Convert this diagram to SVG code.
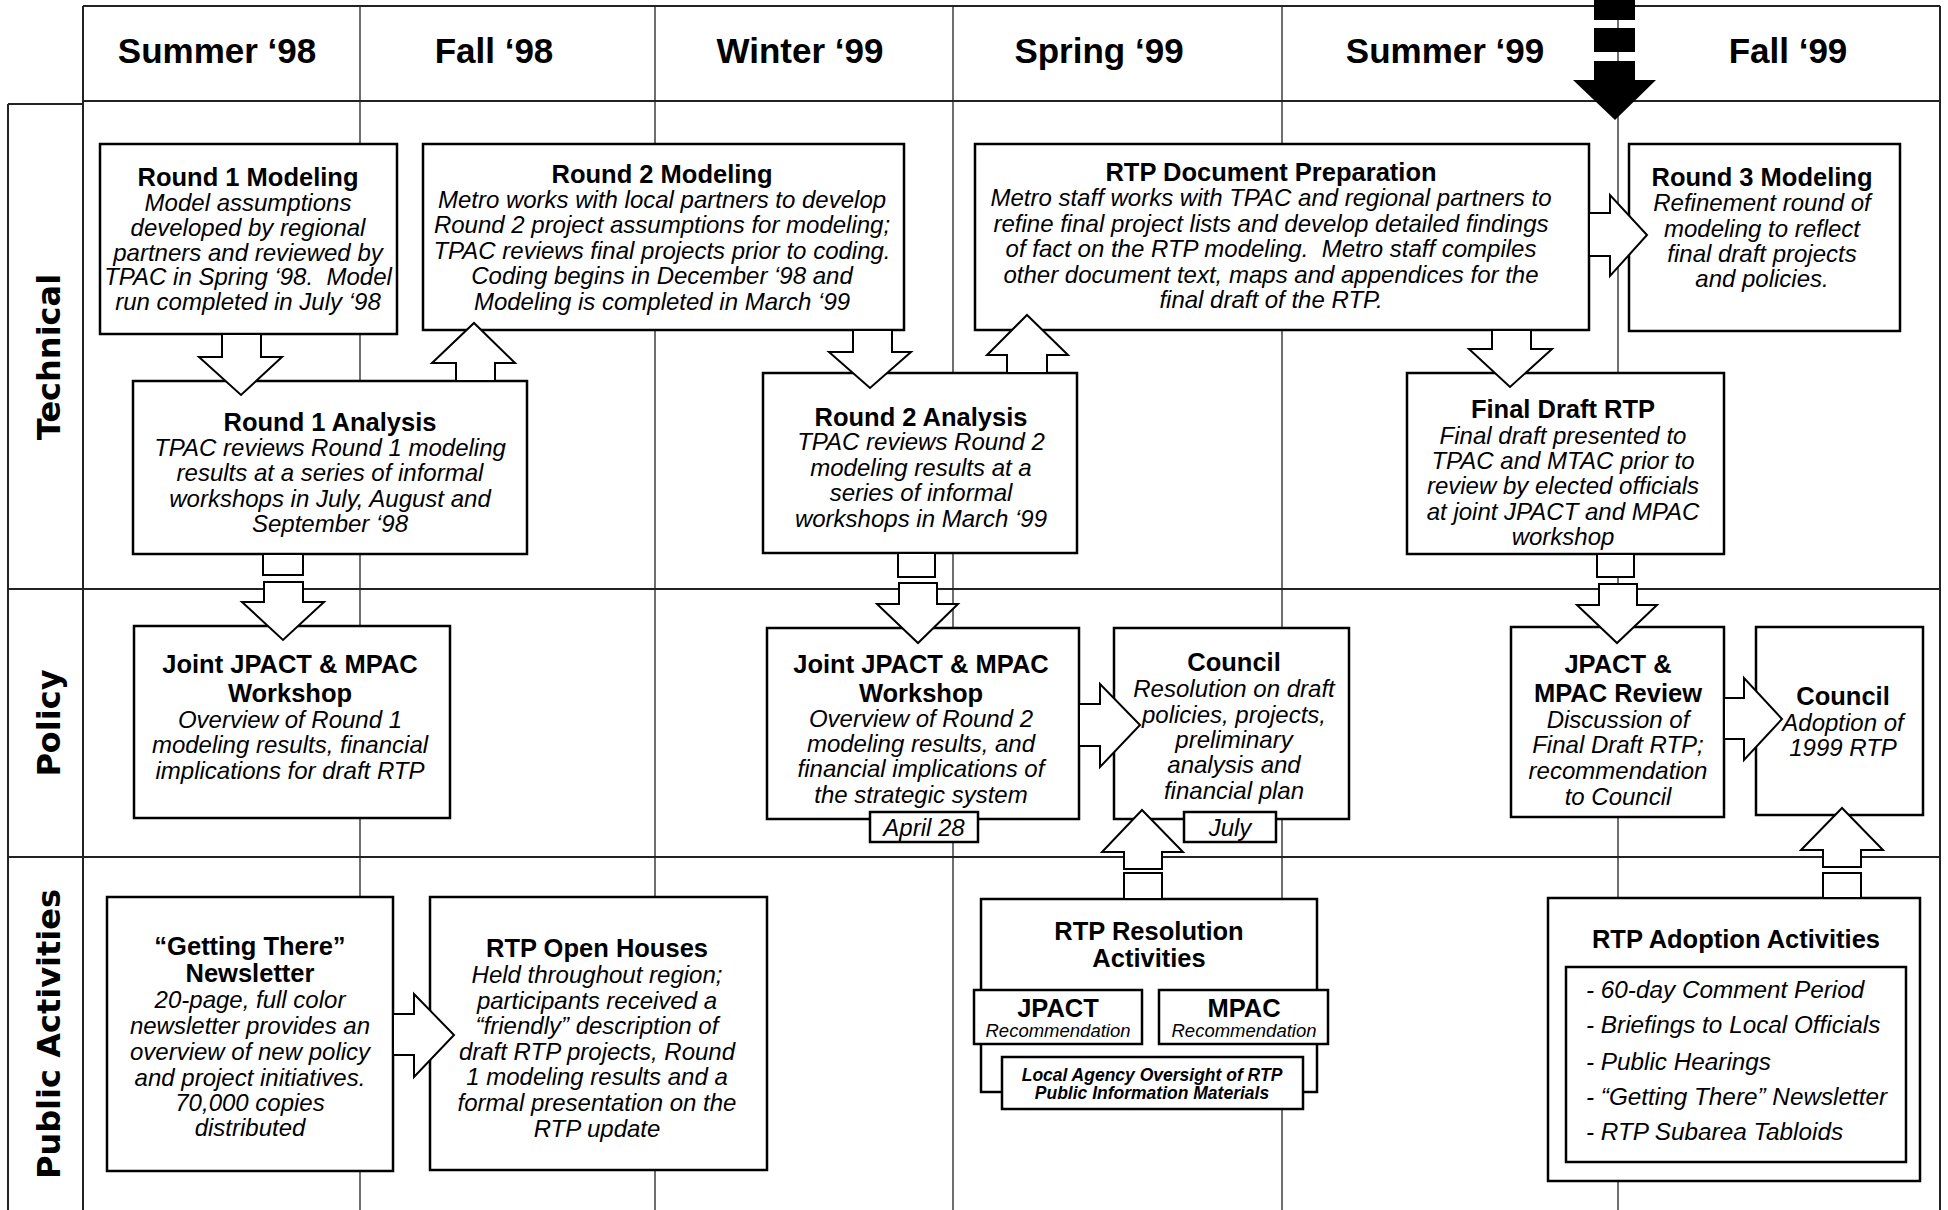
<svg xmlns="http://www.w3.org/2000/svg" width="1948" height="1210" viewBox="0 0 1948 1210">
<style>
.grid{stroke:#222;stroke-width:1.3;fill:none}
.lane{stroke:#222;stroke-width:2;fill:none}
.box{fill:#fff;stroke:#000;stroke-width:2.5}
.arrow{fill:#fff;stroke:#000;stroke-width:2;stroke-linejoin:miter}
.blk{fill:#000;stroke:none}
text{font-family:"Liberation Sans",Arial,sans-serif;fill:#000;text-anchor:middle}
.hdr{font-weight:bold;font-size:35px}
.ll{font-family:"DejaVu Sans",sans-serif;font-weight:bold;font-size:32px}
.t{font-weight:bold;font-size:25.5px}
.b{font-style:italic;font-size:24px}
.s{font-style:italic;font-size:18.5px}
.bi{font-style:italic;font-weight:bold;font-size:17.5px}
.li{font-style:italic;font-size:24.3px;text-anchor:start}
</style>
<rect x="0" y="0" width="1948" height="1210" fill="#fff"/>
<g id="grid">
<path class="lane" d="M83,6 H1940 M83,101 H1940 M8,104 H83 M8,104 V1210 M83,6 V1210 M1940,6 V1210 M8,589 H1940 M8,857 H1940"/>
<path class="grid" d="M360,6 V1210 M655,6 V1210 M953,6 V1210 M1282,6 V1210 M1618,6 V1210"/>
</g>
<g id="header">
<text class="hdr" x="217" y="63">Summer ‘98</text>
<text class="hdr" x="494" y="63">Fall ‘98</text>
<text class="hdr" x="800" y="63">Winter ‘99</text>
<text class="hdr" x="1099" y="63">Spring ‘99</text>
<text class="hdr" x="1445" y="63">Summer ‘99</text>
<text class="hdr" x="1788" y="63">Fall ‘99</text>
</g>
<g id="lanes">
<text class="ll" transform="translate(60,357) rotate(-90)">Technical</text>
<text class="ll" transform="translate(60,723) rotate(-90)">Policy</text>
<text class="ll" transform="translate(60,1034) rotate(-90)">Public Activities</text>
</g>
<g id="round1-modeling">
<rect class="box" x="100" y="144" width="297" height="190"/>
<text class="t" x="248" y="186">Round 1 Modeling</text>
<text class="b"><tspan x="248" y="211">Model assumptions</tspan><tspan x="248" y="236">developed by regional</tspan><tspan x="248" y="261">partners and reviewed by</tspan><tspan x="248" y="285">TPAC in Spring ‘98.&#160; Model</tspan><tspan x="248" y="310">run completed in July ‘98</tspan></text>
</g>
<g id="round2-modeling">
<rect class="box" x="423" y="144" width="481" height="186"/>
<text class="t" x="662" y="183">Round 2 Modeling</text>
<text class="b"><tspan x="662" y="208">Metro works with local partners to develop</tspan><tspan x="662" y="233">Round 2 project assumptions for modeling;</tspan><tspan x="662" y="259">TPAC reviews final projects prior to coding.</tspan><tspan x="662" y="284">Coding begins in December ‘98 and</tspan><tspan x="662" y="310">Modeling is completed in March ‘99</tspan></text>
</g>
<g id="rtp-document-preparation">
<rect class="box" x="975" y="144" width="614" height="186"/>
<text class="t" x="1271" y="181">RTP Document Preparation</text>
<text class="b"><tspan x="1271" y="206">Metro staff works with TPAC and regional partners to</tspan><tspan x="1271" y="232">refine final project lists and develop detailed findings</tspan><tspan x="1271" y="257">of fact on the RTP modeling.&#160; Metro staff compiles</tspan><tspan x="1271" y="283">other document text, maps and appendices for the</tspan><tspan x="1271" y="308">final draft of the RTP.</tspan></text>
</g>
<g id="round3-modeling">
<rect class="box" x="1629" y="144" width="271" height="187"/>
<text class="t" x="1762" y="186">Round 3 Modeling</text>
<text class="b"><tspan x="1762" y="211">Refinement round of</tspan><tspan x="1762" y="237">modeling to reflect</tspan><tspan x="1762" y="262">final draft projects</tspan><tspan x="1762" y="287">and policies.</tspan></text>
</g>
<g id="round1-analysis">
<rect class="box" x="133" y="381" width="394" height="173"/>
<text class="t" x="330" y="431">Round 1 Analysis</text>
<text class="b"><tspan x="330" y="456">TPAC reviews Round 1 modeling</tspan><tspan x="330" y="481">results at a series of informal</tspan><tspan x="330" y="507">workshops in July, August and</tspan><tspan x="330" y="532">September ‘98</tspan></text>
</g>
<g id="round2-analysis">
<rect class="box" x="763" y="373" width="314" height="180"/>
<text class="t" x="921" y="426">Round 2 Analysis</text>
<text class="b"><tspan x="921" y="450">TPAC reviews Round 2</tspan><tspan x="921" y="476">modeling results at a</tspan><tspan x="921" y="501">series of informal</tspan><tspan x="921" y="527">workshops in March ‘99</tspan></text>
</g>
<g id="final-draft-rtp">
<rect class="box" x="1407" y="373" width="317" height="181"/>
<text class="t" x="1563" y="418">Final Draft RTP</text>
<text class="b"><tspan x="1563" y="444">Final draft presented to</tspan><tspan x="1563" y="469">TPAC and MTAC prior to</tspan><tspan x="1563" y="494">review by elected officials</tspan><tspan x="1563" y="520">at joint JPACT and MPAC</tspan><tspan x="1563" y="545">workshop</tspan></text>
</g>
<g id="joint-workshop-1">
<rect class="box" x="134" y="626" width="316" height="192"/>
<text class="t"><tspan x="290" y="673">Joint JPACT &amp; MPAC</tspan><tspan x="290" y="702">Workshop</tspan></text>
<text class="b"><tspan x="290" y="728">Overview of Round 1</tspan><tspan x="290" y="753">modeling results, financial</tspan><tspan x="290" y="779">implications for draft RTP</tspan></text>
</g>
<g id="joint-workshop-2">
<rect class="box" x="767" y="628" width="312" height="191"/>
<text class="t"><tspan x="921" y="673">Joint JPACT &amp; MPAC</tspan><tspan x="921" y="702">Workshop</tspan></text>
<text class="b"><tspan x="921" y="727">Overview of Round 2</tspan><tspan x="921" y="752">modeling results, and</tspan><tspan x="921" y="777">financial implications of</tspan><tspan x="921" y="803">the strategic system</tspan></text>
<rect class="box" x="870" y="812" width="108" height="30" stroke-width="2"/>
<text class="b" x="924" y="836">April 28</text>
</g>
<g id="council-resolution">
<rect class="box" x="1114" y="628" width="235" height="191"/>
<text class="t" x="1234" y="671">Council</text>
<text class="b"><tspan x="1234" y="697">Resolution on draft</tspan><tspan x="1234" y="723">policies, projects,</tspan><tspan x="1234" y="748">preliminary</tspan><tspan x="1234" y="773">analysis and</tspan><tspan x="1234" y="799">financial plan</tspan></text>
<rect class="box" x="1184" y="812" width="92" height="30" stroke-width="2"/>
<text class="b" x="1230" y="836">July</text>
</g>
<g id="jpact-mpac-review">
<rect class="box" x="1511" y="627" width="213" height="190"/>
<text class="t"><tspan x="1618" y="673">JPACT &amp;</tspan><tspan x="1618" y="702">MPAC Review</tspan></text>
<text class="b"><tspan x="1618" y="728">Discussion of</tspan><tspan x="1618" y="753">Final Draft RTP;</tspan><tspan x="1618" y="779">recommendation</tspan><tspan x="1618" y="805">to Council</tspan></text>
</g>
<g id="council-adoption">
<rect class="box" x="1756" y="627" width="167" height="188"/>
<text class="t" x="1843" y="705">Council</text>
<text class="b"><tspan x="1843" y="731">Adoption of</tspan><tspan x="1843" y="756">1999 RTP</tspan></text>
</g>
<g id="newsletter">
<rect class="box" x="107" y="897" width="286" height="274"/>
<text class="t"><tspan x="250" y="955">“Getting There”</tspan><tspan x="250" y="982">Newsletter</tspan></text>
<text class="b"><tspan x="250" y="1008">20-page, full color</tspan><tspan x="250" y="1034">newsletter provides an</tspan><tspan x="250" y="1060">overview of new policy</tspan><tspan x="250" y="1086">and project initiatives.</tspan><tspan x="250" y="1111">70,000 copies</tspan><tspan x="250" y="1136">distributed</tspan></text>
</g>
<g id="open-houses">
<rect class="box" x="430" y="897" width="337" height="273"/>
<text class="t" x="597" y="957">RTP Open Houses</text>
<text class="b"><tspan x="597" y="983">Held throughout region;</tspan><tspan x="597" y="1009">participants received a</tspan><tspan x="597" y="1034">“friendly” description of</tspan><tspan x="597" y="1060">draft RTP projects, Round</tspan><tspan x="597" y="1085">1 modeling results and a</tspan><tspan x="597" y="1111">formal presentation on the</tspan><tspan x="597" y="1137">RTP update</tspan></text>
</g>
<g id="rtp-resolution-activities">
<rect class="box" x="981" y="899" width="336" height="193"/>
<text class="t"><tspan x="1149" y="940">RTP Resolution</tspan><tspan x="1149" y="967">Activities</tspan></text>
<rect class="box" x="974" y="990" width="168" height="54" stroke-width="2"/>
<text class="t" x="1058" y="1017">JPACT</text>
<text class="s" x="1058" y="1037">Recommendation</text>
<rect class="box" x="1159" y="990" width="169" height="54" stroke-width="2"/>
<text class="t" x="1244" y="1017">MPAC</text>
<text class="s" x="1244" y="1037">Recommendation</text>
<rect class="box" x="1002" y="1057" width="301" height="52" stroke-width="2"/>
<text class="bi"><tspan x="1152" y="1081">Local Agency Oversight of RTP</tspan><tspan x="1152" y="1099">Public Information Materials</tspan></text>
</g>
<g id="rtp-adoption-activities">
<rect class="box" x="1548" y="898" width="372" height="283"/>
<text class="t" x="1736" y="948">RTP Adoption Activities</text>
<rect class="box" x="1566" y="967" width="340" height="195" stroke-width="2"/>
<text class="li"><tspan x="1586" y="998">- 60-day Comment Period</tspan><tspan x="1586" y="1033">- Briefings to Local Officials</tspan><tspan x="1586" y="1070">- Public Hearings</tspan><tspan x="1586" y="1105">- “Getting There” Newsletter</tspan><tspan x="1586" y="1140">- RTP Subarea Tabloids</tspan></text>
</g>
<g id="connectors">
<path class="arrow" d="M222,334 H261 V357 H282 L241,395 L199,357 H222 Z"/>
<path class="arrow" d="M853,330 H892 V352 H911 L870,388 L829,352 H853 Z"/>
<path class="arrow" d="M1492,330 H1531 V349 H1552 L1510,387 L1469,349 H1492 Z"/>
<path class="arrow" d="M456,381 H495 V363 H515 L474,323 L432,363 H456 Z"/>
<path class="arrow" d="M1007,373 H1047 V355 H1068 L1027,315 L987,355 H1007 Z"/>
<path class="arrow" d="M1589,213 V256 H1610 V276 L1647,235 L1610,195 V213 Z"/>
<path class="arrow" d="M1079,704 V746 H1100 V767 L1140,725 L1100,684 V704 Z"/>
<path class="arrow" d="M1724,698 V739 H1744 V760 L1782,719 L1744,678 V698 Z"/>
<path class="arrow" d="M393,1014 V1055 H414 V1077 L454,1035 L414,994 V1014 Z"/>
<rect class="arrow" x="263" y="554" width="40" height="21"/>
<path class="arrow" d="M264,582 H303 V602 H324 L283,640 L242,602 H264 Z"/>
<rect class="arrow" x="898" y="553" width="37" height="24"/>
<path class="arrow" d="M899,583 H937 V604 H958 L918,643 L877,604 H899 Z"/>
<rect class="arrow" x="1597" y="554" width="37" height="23"/>
<path class="arrow" d="M1599,584 H1637 V605 H1657 L1617,643 L1577,605 H1599 Z"/>
<rect class="arrow" x="1124" y="873" width="38" height="26"/>
<path class="arrow" d="M1124,869 H1162 V852 H1183 L1142,810 L1102,852 H1124 Z"/>
<rect class="arrow" x="1823" y="873" width="38" height="25"/>
<path class="arrow" d="M1823,867 H1861 V850 H1883 L1842,808 L1801,850 H1823 Z"/>
<rect class="blk" x="1594" y="0" width="41" height="20"/>
<rect class="blk" x="1594" y="28" width="41" height="24"/>
<rect class="blk" x="1594" y="61" width="41" height="20"/>
<path class="blk" d="M1573,80 H1656 L1615,120 Z"/>
</g>
</svg>
